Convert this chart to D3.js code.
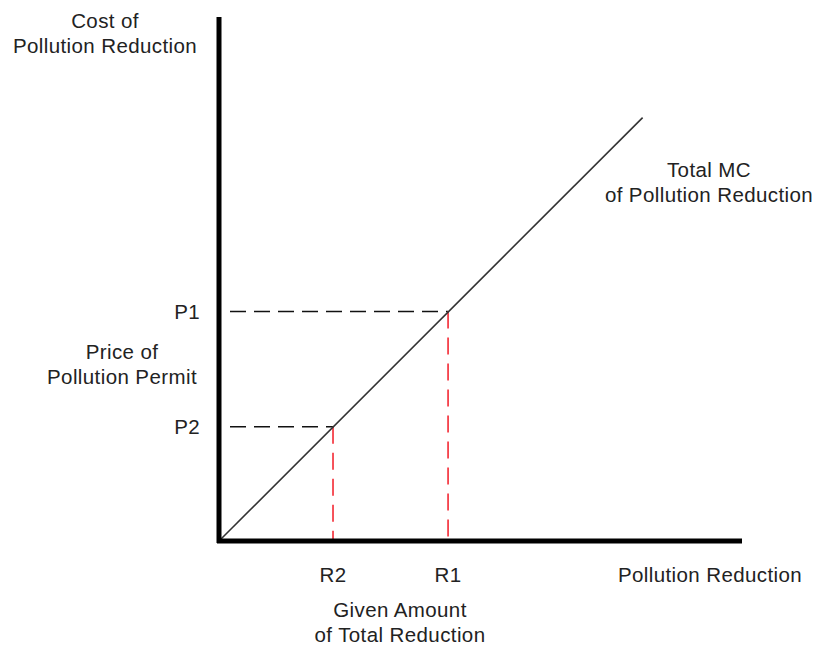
<!DOCTYPE html>
<html>
<head>
<meta charset="utf-8">
<script src="https://cdn.jsdelivr.net/npm/d3@7"></script>
<style>
  body { margin: 0; background: #fff; }
  text { font-family: "Liberation Sans", Arial, sans-serif; font-size: 20.5px; letter-spacing: 0.4px; fill: #222; }
</style>
</head>
<body>
<svg id="chart" width="817" height="645"></svg>
<script>
// reduction levels read on the x axis, price level = MC at that reduction
const reductionLabels = ["R2", "R1"];
const reductionValues = [21.8, 43.8];
const priceLabels = ["P2", "P1"];
const priceValues = [21.8, 43.8];

// total MC curve, a straight line from the origin
const mcQuantity = [0, 81];
const mcCost = [0, 80.8];

let svg = d3.select("#chart");

// scales
let x = d3.scaleLinear().domain([0, 100]).range([219, 742]);
let y = d3.scaleLinear().domain([0, 100]).range([541, 17]);

// dashed guide lines: black horizontals to the y axis
svg.selectAll("line.hguide").data(priceValues)
    .join("line")
    .attr("class", "hguide")
    .attr("x1", x(0) + 3)
    .attr("x2", (d, i) => x(reductionValues[i]))
    .attr("y1", d => y(d))
    .attr("y2", d => y(d))
    .attr("stroke", "#111")
    .attr("stroke-width", 1.7)
    .attr("stroke-dasharray", "16,8")
    .attr("stroke-dashoffset", 16);

// red verticals down to the x axis
svg.selectAll("line.vguide").data(reductionValues)
    .join("line")
    .attr("class", "vguide")
    .attr("x1", d => x(d))
    .attr("x2", d => x(d))
    .attr("y1", (d, i) => y(priceValues[i]))
    .attr("y2", y(0))
    .attr("stroke", "#f5404a")
    .attr("stroke-width", 1.8)
    .attr("stroke-dasharray", "17,9");

// MC line
let line = d3.line().x(d => x(d[0])).y(d => y(d[1]));
svg.append("path")
    .datum(d3.zip(mcQuantity, mcCost))
    .attr("d", line)
    .attr("fill", "none")
    .attr("stroke", "#333")
    .attr("stroke-width", 1.6);

// axes (plain thick lines, no ticks)
svg.append("line")
    .attr("x1", x(0)).attr("x2", x(0))
    .attr("y1", y(100)).attr("y2", y(0) + 2)
    .attr("stroke", "#000").attr("stroke-width", 5);
svg.append("line")
    .attr("x1", x(0) - 2).attr("x2", x(100))
    .attr("y1", y(0)).attr("y2", y(0))
    .attr("stroke", "#000").attr("stroke-width", 5);

// tick-like labels
svg.selectAll("text.plab").data(priceLabels)
    .join("text")
    .attr("class", "plab")
    .attr("x", 200)
    .attr("y", (d, i) => y(priceValues[i]))
    .attr("dy", "0.35em")
    .attr("text-anchor", "end")
    .text(d => d);

svg.selectAll("text.rlab").data(reductionLabels)
    .join("text")
    .attr("class", "rlab")
    .attr("x", (d, i) => x(reductionValues[i]))
    .attr("y", 582)
    .attr("text-anchor", "middle")
    .text(d => d);

// multi-line annotations
function block(lines, cx, baseline, anchor) {
    let t = svg.append("text")
        .attr("text-anchor", anchor || "middle");
    lines.forEach((s, i) => {
        t.append("tspan")
            .attr("x", cx)
            .attr("y", baseline + i * 25)
            .text(s);
    });
}

block(["Cost of", "Pollution Reduction"], 105, 28);
block(["Price of", "Pollution Permit"], 122, 359);
block(["Total MC", "of Pollution Reduction"], 709, 177);
block(["Given Amount", "of Total Reduction"], 400, 617);
block(["Pollution Reduction"], 710, 582);
</script>
</body>
</html>
